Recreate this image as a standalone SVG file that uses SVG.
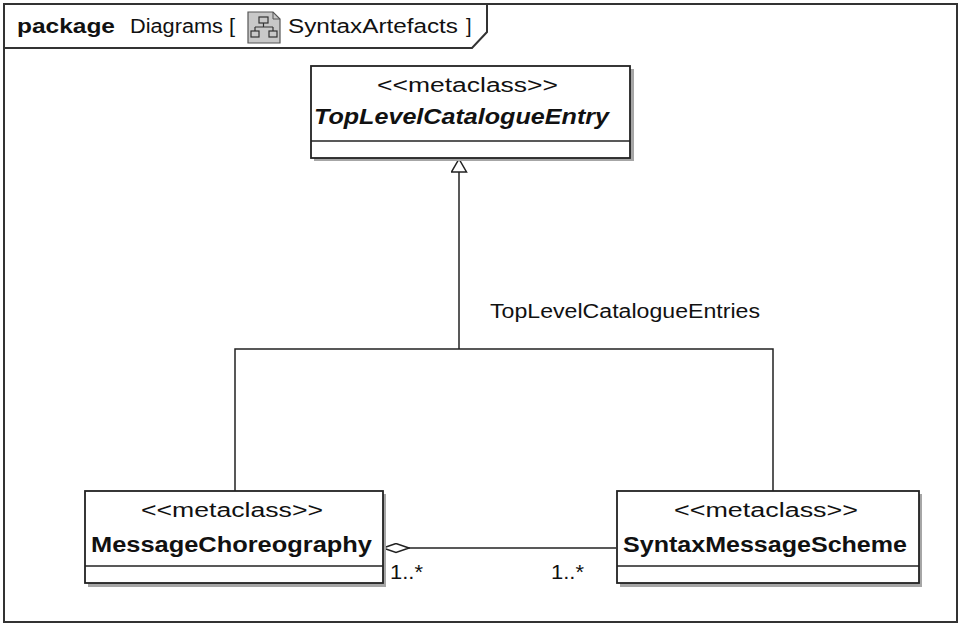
<svg xmlns="http://www.w3.org/2000/svg" width="959" height="624" viewBox="0 0 959 624">
<defs>
<style>
.frame{fill:none;stroke:#333;stroke-width:2}
.box{fill:#fff;stroke:#222;stroke-width:1.8}
.div{stroke:#222;stroke-width:1.5}
.shadow{fill:#a6a6a6}
.t{font-family:"Liberation Sans",Arial,sans-serif;font-size:20px;fill:#111}
.b{font-weight:bold;font-size:22px}
.bi{font-weight:bold;font-style:italic;font-size:22px}
.edge{fill:none;stroke:#222;stroke-width:1.5}
</style>
<marker id="gen" viewBox="0 0 15 17" refX="14" refY="8.5" markerWidth="15" markerHeight="17" markerUnits="userSpaceOnUse" orient="auto">
<path d="M1,1 L14,8.5 L1,16 Z" fill="#fff" stroke="#222" stroke-width="1.5"/>
</marker>
<marker id="agg" viewBox="0 0 28 11" refX="27" refY="5.5" markerWidth="28" markerHeight="11" markerUnits="userSpaceOnUse" orient="auto">
<path d="M1,5.5 L14,1 L27,5.5 L14,10 Z" fill="#fff" stroke="#222" stroke-width="1.5"/>
</marker>
</defs>
<rect width="959" height="624" fill="#fff"/>
<g id="frame">
<rect class="frame" x="4" y="4" width="953" height="618"/>
<path class="frame" d="M4,48 L472,48 L487,32 L487,4"/>
<text class="t" x="17" y="33" font-weight="bold" textLength="98" lengthAdjust="spacingAndGlyphs">package</text>
<text class="t" x="130" y="33" textLength="105" lengthAdjust="spacingAndGlyphs">Diagrams [</text>
<g id="icon">
<path d="M248,12 L273,12 L280,19 L280,43 L248,43 Z" fill="#c8c8c8" stroke="#555" stroke-width="1.2"/>
<path d="M273,12 L273,19 L280,19" fill="none" stroke="#555" stroke-width="1"/>
<rect x="259" y="17" width="9" height="6" fill="none" stroke="#333" stroke-width="1.2"/>
<path d="M263.5,23 V27 M255,27 H273 M255,27 V31 M273,27 V31" fill="none" stroke="#333" stroke-width="1.2"/>
<rect x="251" y="31" width="8" height="6" fill="none" stroke="#333" stroke-width="1.2"/>
<rect x="269" y="31" width="8" height="6" fill="none" stroke="#333" stroke-width="1.2"/>
</g>
<text class="t" x="288" y="33" textLength="170" lengthAdjust="spacingAndGlyphs">SyntaxArtefacts</text>
<text class="t" x="466" y="33">]</text>
</g>
<g id="connectors">
<path class="edge" d="M235,491 V349 H773 V491"/>
<path class="edge" d="M459,349 V159" marker-end="url(#gen)"/>
<text class="t" x="490" y="318" textLength="270" lengthAdjust="spacingAndGlyphs">TopLevelCatalogueEntries</text>
<path class="edge" d="M616,548 H383" marker-end="url(#agg)"/>
<text class="t" x="390" y="579" textLength="33" lengthAdjust="spacingAndGlyphs">1..*</text>
<text class="t" x="551" y="579" textLength="33" lengthAdjust="spacingAndGlyphs">1..*</text>
</g>
<g id="TopLevelCatalogueEntry">
<rect class="shadow" x="314" y="69" width="320" height="92"/>
<rect class="box" x="311" y="66" width="319" height="92"/>
<line class="div" x1="311" y1="141" x2="630" y2="141"/>
<text class="t" x="377" y="92" textLength="181" lengthAdjust="spacingAndGlyphs">&lt;&lt;metaclass&gt;&gt;</text>
<text class="t bi" x="314" y="124" textLength="295" lengthAdjust="spacingAndGlyphs">TopLevelCatalogueEntry</text>
</g>
<g id="MessageChoreography">
<rect class="shadow" x="88" y="494" width="298" height="93"/>
<rect class="box" x="85" y="491" width="298" height="92"/>
<line class="div" x1="85" y1="566" x2="383" y2="566"/>
<text class="t" x="141" y="517" textLength="182" lengthAdjust="spacingAndGlyphs">&lt;&lt;metaclass&gt;&gt;</text>
<text class="t b" x="91" y="552" textLength="281" lengthAdjust="spacingAndGlyphs">MessageChoreography</text>
</g>
<g id="SyntaxMessageScheme">
<rect class="shadow" x="620" y="494" width="302" height="93"/>
<rect class="box" x="617" y="491" width="302" height="92"/>
<line class="div" x1="617" y1="566" x2="919" y2="566"/>
<text class="t" x="674" y="517" textLength="184" lengthAdjust="spacingAndGlyphs">&lt;&lt;metaclass&gt;&gt;</text>
<text class="t b" x="623" y="552" textLength="284" lengthAdjust="spacingAndGlyphs">SyntaxMessageScheme</text>
</g>
</svg>
